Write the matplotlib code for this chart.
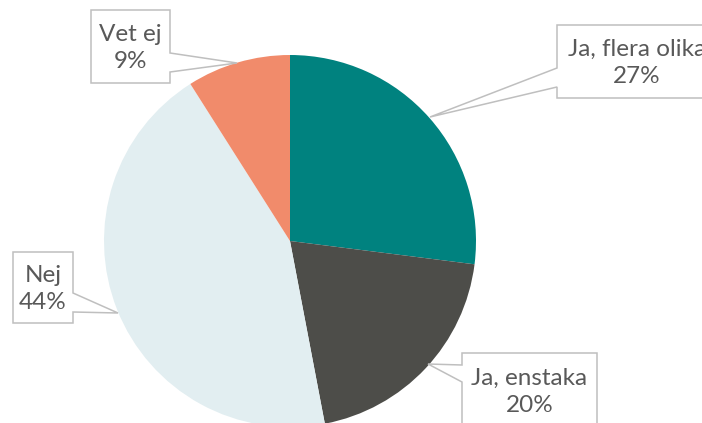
import matplotlib
matplotlib.use("Agg")
import matplotlib.pyplot as plt
from matplotlib.patches import Polygon

# Survey answers, clockwise from 12 o'clock
categories = ["Ja, flera olika", "Ja, enstaka", "Nej", "Vet ej"]
shares = [27, 20, 44, 9]
colors = ["#00827F", "#4D4D49", "#E2EEF1", "#F18B6B"]

W, H = 702, 423
fig = plt.figure(figsize=(W / 100, H / 100), dpi=100)
ax = fig.add_axes([0, 0, 1, 1])

CX, CY, R = 290, 241, 186  # pie centre / radius in pixel units (y from top)


def fy(y):
    return H - y


ax.pie(shares, colors=colors, startangle=90, counterclock=False,
       center=(CX, fy(CY)), radius=R, wedgeprops=dict(linewidth=0))
ax.set_xlim(0, W)
ax.set_ylim(0, H)
ax.set_aspect("equal")
ax.axis("off")

# Callout boxes: (left, top, right, bottom), pointer side, pointer base span, tip
callouts = {
    "Vet ej": dict(box=(91, 10, 170, 83), side="right", base=(53, 72), tip=(237, 63)),
    "Ja, flera olika": dict(box=(557, 25, 717, 98), side="left", base=(68, 87), tip=(430, 117)),
    "Nej": dict(box=(13, 252, 73, 323), side="right", base=(293, 312), tip=(118, 313)),
    "Ja, enstaka": dict(box=(462, 353, 597, 428), side="left", base=(365, 382), tip=(428, 364)),
}

for name, share in zip(categories, shares):
    c = callouts[name]
    l, t, r, b = c["box"]
    b0, b1 = c["base"]
    tx, ty = c["tip"]
    if c["side"] == "right":
        pts = [(l, t), (r, t), (r, b0), (tx, ty), (r, b1), (r, b), (l, b)]
    else:
        pts = [(l, t), (r, t), (r, b), (l, b), (l, b1), (tx, ty), (l, b0)]
    pts = [(x, fy(y)) for x, y in pts]
    ax.add_patch(Polygon(pts, closed=True, facecolor="white",
                         edgecolor="#BFBFBF", linewidth=1.1, zorder=3))
    xc = (l + r) / 2
    yc = (t + b) / 2 + 1.5
    ax.text(xc, fy(yc), f"{name}\n{share}%", ha="center", va="center",
            fontsize=17.5, color="#595959", family="Lato",
            linespacing=1.33, zorder=4)

fig.savefig("out.png", dpi=100)
